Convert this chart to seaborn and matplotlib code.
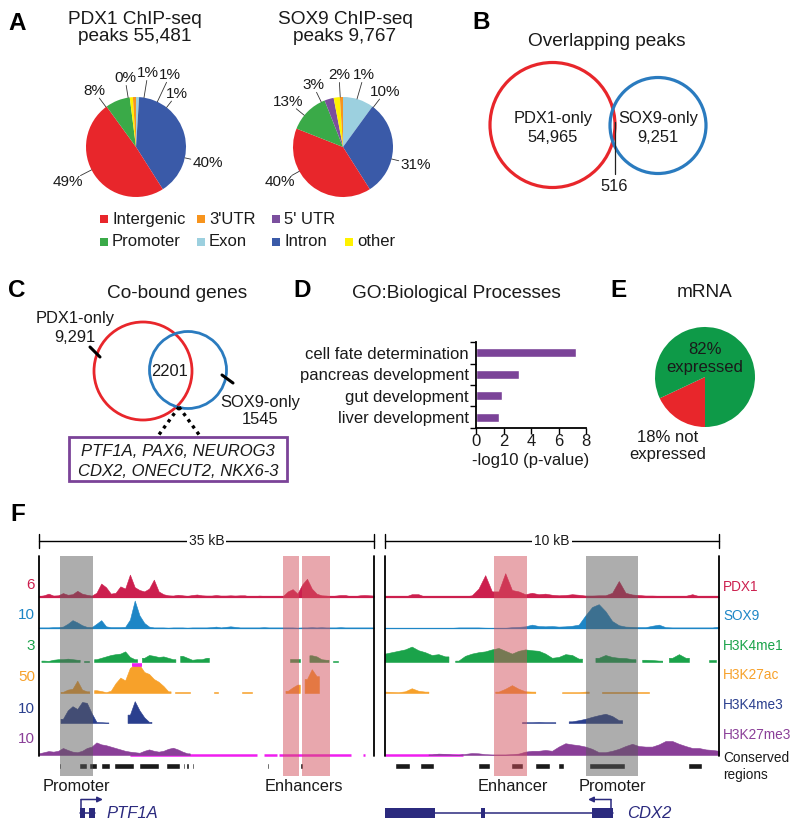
import numpy as np
import pandas as pd
import matplotlib
matplotlib.use('Agg')
import matplotlib.pyplot as plt
import seaborn as sns
from matplotlib.patches import Circle, Rectangle

# ======================= DATA =======================
# Panel A: genomic distribution of ChIP-seq peaks (%), clockwise from 12 o'clock
region_names = ['Exon', 'Intron', 'Intergenic', 'Promoter', "5' UTR", 'other', "3'UTR"]
pdx1_region_pct = [1, 40, 49, 8, 0, 1, 1]
sox9_region_pct = [10, 31, 40, 13, 3, 2, 1]
pdx1_title = ['PDX1 ChIP-seq', 'peaks 55,481']
sox9_title = ['SOX9 ChIP-seq', 'peaks 9,767']
legend_rows = [['Intergenic', "3'UTR", "5' UTR"], ['Promoter', 'Exon', 'Intron', 'other']]

# Panel B: overlapping peaks
peak_sets = ['PDX1-only', 'SOX9-only']
peak_counts = ['54,965', '9,251']
peak_shared = '516'

# Panel C: co-bound genes
gene_sets = ['PDX1-only', 'SOX9-only']
gene_counts = ['9,291', '1545']
gene_shared = '2201'
cobound_examples = ['PTF1A, PAX6, NEUROG3', 'CDX2, ONECUT2, NKX6-3']

# Panel D: GO biological processes
go_terms = ['cell fate determination', 'pancreas development', 'gut development', 'liver development']
go_neglog10p = [7.3, 3.1, 1.9, 1.7]

# Panel E: mRNA expression of co-bound genes
mrna_labels = ['not expressed', 'expressed']
mrna_pct = [18, 82]

# Panel F: browser tracks (signal as fraction of the track scale; nan = no signal)
nan = np.nan
track_names = ['PDX1', 'SOX9', 'H3K4me1', 'H3K27ac', 'H3K4me3', 'H3K27me3']
track_scales = ['6', '10', '3', '50', '10', '10']
left_span_kb, right_span_kb = 35, 10
left_step, right_step = 0.5, 0.2

left_pdx1 = [0.03, 0.06, 0.12, 0.05, 0.06, 0.14, 0.08, 0.10, 0.22, 0.12,
             0.08, 0.05, 0.15, 0.48, 0.35, 0.12, 0.15, 0.38, 0.30, 0.80,
             0.35, 0.25, 0.20, 0.30, 0.62, 0.20, 0.10, 0.06, 0.05, 0.08,
             0.06, 0.04, 0.07, 0.09, 0.06, 0.05, 0.05, 0.07, 0.05, 0.05,
             0.06, 0.05, 0.06, 0.06, 0.02, 0.03, 0.05, 0.04, 0.02, 0.02,
             0.02, 0.04, 0.20, 0.28, 0.12, 0.45, 0.65, 0.30, 0.12, 0.06,
             0.05, 0.03, 0.05, 0.07, 0.07, 0.03, 0.03, 0.06, 0.07, 0.06,
             0.05]
left_sox9 = [0.02, 0.02, 0.02, 0.03, 0.03, 0.05, 0.15, 0.28, 0.20, 0.10,
             0.04, 0.03, 0.15, 0.28, 0.06, 0.03, 0.03, 0.03, 0.04, 0.30,
             0.98, 0.45, 0.18, 0.05, 0.02, 0.02, 0.02, 0.01, 0.02, 0.02,
             0.02, 0.01, 0.02, 0.02, 0.02, 0.02, 0.03, 0.05, 0.02, 0.04,
             0.06, 0.04, 0.02, 0.02, 0.02, 0.02, 0.02, 0.03, 0.02, 0.02,
             0.02, 0.02, 0.02, 0.02, 0.01, 0.02, 0.02, 0.03, 0.02, 0.03,
             0.02, 0.02, 0.02, 0.03, 0.02, 0.02, 0.02, 0.02, 0.02, 0.02,
             0.02]
left_h3k4me1 = [nan, 0.05, 0.04, 0.08, 0.10, 0.10, 0.12, 0.10, 0.08, nan,
                0.05, nan, 0.10, 0.15, 0.20, 0.25, 0.28, 0.30, 0.38, 0.18,
                0.10, nan, 0.15, 0.25, 0.22, 0.18, 0.20, 0.15, 0.10, nan,
                0.22, 0.15, 0.08, 0.10, 0.10, 0.15, nan, nan, nan, nan,
                nan, nan, nan, nan, nan, nan, nan, nan, nan, nan,
                nan, nan, nan, 0.12, 0.12, nan, nan, 0.24, 0.20, 0.10,
                0.08, nan, 0.04, nan, nan, nan, nan, nan, nan, nan,
                nan]
left_h3k27ac = [nan, nan, nan, nan, nan, 0.04, 0.12, 0.15, 0.44, 0.12,
                0.06, nan, 0.10, 0.07, 0.03, 0.08, 0.35, 0.55, 0.45, 0.90,
                1.05, 1.05, 0.75, 0.68, 0.50, 0.40, 0.25, 0.06, nan, 0.05,
                0.05, 0.05, nan, nan, nan, nan, nan, 0.04, nan, nan,
                nan, nan, nan, 0.04, 0.04, nan, nan, nan, nan, nan,
                nan, nan, 0.08, 0.20, 0.30, nan, 0.50, 0.85, 0.60, nan,
                nan, nan, nan, nan, nan, nan, nan, nan, nan, nan,
                nan]
left_h3k4me3 = [nan, nan, nan, nan, nan, 0.15, 0.45, 0.60, 0.50, 0.75,
                0.72, 0.35, 0.04, 0.03, 0.02, nan, nan, nan, nan, 0.30,
                0.78, 0.45, 0.20, 0.04, nan, nan, nan, nan, nan, nan] + [nan] * 41
left_h3k27me3 = [0.06, 0.10, 0.14, 0.12, 0.15, 0.25, 0.18, 0.12, 0.10, 0.15,
                 0.25, 0.30, 0.45, 0.38, 0.35, 0.30, 0.25, 0.20, 0.15, 0.12,
                 0.10, 0.08, 0.15, 0.20, 0.15, 0.12, 0.15, 0.22, 0.26, 0.20,
                 0.12, 0.06] + [nan] * 39

right_pdx1 = [0.04, 0.04, 0.03, 0.01, 0.10, 0.10, 0.01, 0.01, 0.01, 0.01,
              0.01, 0.01, 0.02, 0.06, 0.30, 0.78, 0.20, 0.20, 0.85, 0.25,
              0.20, 0.10, 0.15, 0.10, 0.12, 0.08, 0.06, 0.07, 0.10, 0.08,
              0.05, 0.05, 0.06, 0.06, 0.15, 0.57, 0.15, 0.09, 0.07, 0.05,
              0.05, 0.04, 0.04, 0.03, 0.03, 0.04, 0.10, 0.03, 0.02, 0.02,
              0.02]
right_sox9 = [0.005, 0.005, 0.005, 0.005, 0.005, 0.005, 0.005, 0.005, 0.005, 0.005,
              0.005, 0.02, 0.02, 0.02, 0.02, 0.01, 0.005, 0.005, 0.005, 0.03,
              0.04, 0.06, 0.12, 0.07, 0.06, 0.07, 0.05, 0.06, 0.08, 0.12,
              0.45, 0.75, 0.85, 0.60, 0.25, 0.10, 0.05, 0.04, 0.03, 0.03,
              0.08, 0.12, 0.03, 0.02, 0.02, 0.02, 0.02, 0.02, 0.02, 0.02,
              0.05]
right_h3k4me1 = [0.30, 0.35, 0.40, 0.45, 0.55, 0.42, 0.35, 0.25, 0.28, 0.20,
                 nan, 0.05, 0.22, 0.30, 0.35, 0.38, 0.45, 0.50, 0.40, 0.30,
                 0.40, 0.45, 0.42, 0.40, 0.30, 0.15, 0.18, 0.28, 0.25, 0.12,
                 nan, nan, 0.15, 0.25, 0.18, 0.15, 0.14, 0.10, nan, 0.08,
                 0.07, 0.05, nan, 0.15, 0.28, 0.15, nan, nan, nan, 0.06,
                 nan]
right_h3k27ac = [0.05, 0.04, 0.03, 0.06, 0.17, 0.08, 0.05, nan, nan, nan,
                 nan, nan, nan, nan, nan, nan, nan, 0.05, 0.15, 0.28,
                 0.15, 0.06, 0.05, nan, nan, nan, nan, 0.03, 0.03, 0.03,
                 0.05, nan, nan, 0.03, 0.03, 0.03, 0.03, 0.03, 0.03, 0.03,
                 nan, nan, nan, nan, nan, nan, nan, nan, nan, nan,
                 nan]
right_h3k4me3 = [nan] * 20 + [
                 nan, 0.03, 0.03, 0.04, 0.03, 0.03, nan, nan, 0.06, 0.10,
                 0.15, 0.22, 0.28, 0.33, 0.25, 0.10, nan, nan, nan, nan] + [nan] * 11
right_h3k27me3 = [nan, nan, nan, nan, nan, nan, nan, 0.02, 0.05, 0.04,
                  0.02, 0.01, 0.04, 0.07, 0.06, 0.03, 0.02, 0.02, 0.02, 0.03,
                  0.05, 0.12, 0.15, 0.15, 0.18, 0.15, 0.30, 0.42, 0.38, 0.35,
                  0.30, 0.22, 0.10, 0.10, 0.15, 0.22, 0.32, 0.40, 0.32, 0.30,
                  0.30, 0.38, 0.50, 0.50, 0.40, 0.32, 0.25, 0.25, 0.20, 0.18,
                  0.15]

left_zero_h3k27me3 = [(9.5, 22.8), (23.5, 24.9), (25.1, 32.6), (33.8, 34.1)]
right_zero_h3k27me3 = [(0.0, 2.35)]

left_conserved = [(0.28, 0.39), (2.12, 2.27), (3.53, 3.67), (3.88, 4.02), (4.22, 5.0),
                  (5.27, 6.05), (6.47, 7.44), (7.86, 9.96), (10.41, 12.5), (13.28, 14.78),
                  (15.06, 15.3), (15.41, 15.65), (16.0, 16.17), (23.8, 24.04), (27.28, 27.54)]
right_conserved = [(0.3, 0.75), (1.05, 1.47), (2.78, 3.13), (3.78, 4.13), (4.5, 4.95),
                   (5.17, 5.35), (6.1, 7.18), (9.08, 9.5)]

left_highlights = [(2.2, 5.65, 'promoter'), (25.5, 27.2, 'enhancer'), (27.5, 30.4, 'enhancer')]
right_highlights = [(3.26, 4.25, 'enhancer'), (6.02, 7.57, 'promoter')]

ptf1a_exons = [(4.28, 4.84), (5.26, 5.85)]
ptf1a_tss, ptf1a_strand = 4.38, +1
cdx2_exons = [(0.0, 1.5), (2.88, 3.0), (6.19, 6.82)]
cdx2_tss, cdx2_strand = 6.77, -1

# ======================= STYLE =======================
sns.set_theme(style='white')
plt.rcParams['font.family'] = ['Liberation Sans', 'DejaVu Sans']
TXT = '#1a1a1a'
RED = '#E8262B'
BLUE = '#2A7BBF'
PURPLE = '#7B4398'
GREEN_E = '#0E9A48'
region_colors = {'Intergenic': '#E8262B', "3'UTR": '#F7941D', "5' UTR": '#7B4F9E',
                 'Promoter': '#3AAA48', 'Exon': '#9CD0DF', 'Intron': '#3A5AA8', 'other': '#FFF200'}
track_colors = ['#CC1F4E', '#1D86C6', '#1AA34A', '#F7A12A', '#2A3F8E', '#8A3F98']
MAGENTA = '#F01EF0'
NAVY = '#2B2A7E'
FS_TITLE = 13.7
FS = 11.9

W, H = 800, 832
fig = plt.figure(figsize=(W / 100, H / 100), dpi=100)
fig.patch.set_facecolor('white')


def fig_axes(x0, y0, x1, y1):
    ax = fig.add_axes([x0 / W, 1 - y1 / H, (x1 - x0) / W, (y1 - y0) / H])
    ax.patch.set_alpha(0)
    return ax


ov = fig_axes(0, 0, W, H)
ov.set_xlim(0, W)
ov.set_ylim(H, 0)
ov.axis('off')
ov.set_zorder(20)


def T(x, y, s, size=FS, ha='center', va='baseline', color=TXT, **kw):
    ov.text(x, y, s, fontsize=size, ha=ha, va=va, color=color, **kw)


for letter, (x, y) in zip('ABCDEF', [(8, 30), (472, 29), (8, 297), (293, 297), (610, 297), (10, 521)]):
    T(x, y, letter, size=17.5, ha='left', weight='bold', color='black')


def draw_pie(cx, cy, r, values, colors, startangle, label_xy=None, fs=11):
    pad = 1.75
    ax = fig_axes(cx - r * pad, cy - r * pad, cx + r * pad, cy + r * pad)
    ax.pie(values, colors=colors, startangle=startangle, counterclock=False, radius=1,
           wedgeprops=dict(linewidth=0))
    ax.set_xlim(-pad, pad)
    ax.set_ylim(-pad, pad)
    ax.set_aspect('equal')
    ax.axis('off')
    if label_xy is None:
        return ax
    em = fs * 100 / 72 / r          # font size in radius units
    for v, (lx, ly) in zip(values, label_xy):
        s = f'{v}%'
        d = np.hypot(lx, ly)
        ux, uy = lx / d, ly / d
        hw = (0.556 * (len(s) - 1) + 0.889) * em / 2
        hh = 0.36 * em
        t = min(hw / max(abs(ux), 1e-6), hh / max(abs(uy), 1e-6)) + 0.04
        end = d - t
        if end > 1.03:
            ax.plot([ux * 1.0, ux * end], [uy * 1.0, uy * end], color='#333333', lw=0.6)
        ax.text(lx, ly, s, ha='center', va='center', fontsize=fs, color=TXT)
    return ax


# ---------------- Panel A ----------------
pdx1_label_xy = [(0.82, 1.06), (1.44, -0.32), (-1.36, -0.70), (-0.84, 1.12),
                 (-0.22, 1.38), (0.24, 1.48), (0.68, 1.44)]
sox9_label_xy = [(0.84, 1.10), (1.46, -0.36), (-1.26, -0.70), (-1.10, 0.90),
                 (-0.60, 1.24), (-0.08, 1.44), (0.42, 1.44)]
draw_pie(136, 147, 50, pdx1_region_pct, [region_colors[n] for n in region_names], 90, pdx1_label_xy)
draw_pie(343, 147, 50, sox9_region_pct, [region_colors[n] for n in region_names], 90, sox9_label_xy)
T(134.5, 24, pdx1_title[0], FS_TITLE)
T(134.5, 41, pdx1_title[1], FS_TITLE)
T(345, 24, sox9_title[0], FS_TITLE)
T(345, 41, sox9_title[1], FS_TITLE)

legend_x = [100, 197, 272, 345]
for row, ybase in zip(legend_rows, [224, 246.5]):
    for name, x in zip(row, legend_x):
        ov.add_patch(Rectangle((x, ybase - 9), 8, 8, fc=region_colors[name], lw=0))
        T(x + 12, ybase, name, 12, ha='left')

# ---------------- Panel B ----------------
T(607, 46, 'Overlapping peaks', FS_TITLE)
ov.add_patch(Circle((552.5, 125), 62.5, fill=False, ec=RED, lw=2.3))
ov.add_patch(Circle((658, 125.5), 48, fill=False, ec=BLUE, lw=2.3))
T(553, 123, peak_sets[0])
T(553, 142, peak_counts[0])
T(658, 123, peak_sets[1])
T(658, 142, peak_counts[1])
ov.plot([615, 615], [122, 174], color='#222222', lw=0.9)
T(614, 191, peak_shared)

# ---------------- Panel C ----------------
T(177, 298, 'Co-bound genes', FS_TITLE)
ov.add_patch(Circle((143, 371), 49, fill=False, ec=RED, lw=2.0))
ov.add_patch(Circle((188, 370), 38.5, fill=False, ec=BLUE, lw=2.0))
T(75, 323, gene_sets[0])
T(75, 342, gene_counts[0])
ov.plot([90, 100], [347, 357], color='black', lw=2.2)
T(170, 376, gene_shared)
T(260, 407, gene_sets[1])
T(260, 424, gene_counts[1])
ov.plot([222, 233], [375, 383], color='black', lw=2.2)
ov.plot([179, 158], [407, 436], color='black', lw=2.4, ls=(0, (1, 1.3)))
ov.plot([179, 200], [407, 436], color='black', lw=2.4, ls=(0, (1, 1.3)))
ov.add_patch(Rectangle((69, 437), 218, 44, fill=False, ec=PURPLE, lw=2.0))
T(178, 456, cobound_examples[0], 12, style='italic')
T(178, 476, cobound_examples[1], 12, style='italic')

# ---------------- Panel D ----------------
T(456, 298, 'GO:Biological Processes', FS_TITLE)
axD = fig_axes(476, 342, 586, 428)
dfD = pd.DataFrame({'term': go_terms, 'score': go_neglog10p})
sns.barplot(data=dfD, x='score', y='term', orient='h', color=PURPLE, saturation=1,
            width=0.42, ax=axD)
axD.set_xlim(0, 8)
axD.set_ylim(3.5, -0.5)
axD.set_xlabel('')
axD.set_ylabel('')
axD.set_xticks([0, 2, 4, 6, 8])
axD.tick_params(axis='x', which='major', length=4, width=1, labelsize=12, pad=0.5,
                color='black', bottom=True, labelcolor=TXT)
axD.tick_params(axis='y', which='major', length=0, labelsize=12, pad=5, labelcolor=TXT)
axD.set_yticks(np.arange(-0.5, 4.0, 1.0), minor=True)
axD.tick_params(axis='y', which='minor', length=4, width=1, left=True, color='black')
for s in ['top', 'right']:
    axD.spines[s].set_visible(False)
for s in ['left', 'bottom']:
    axD.spines[s].set_visible(True)
    axD.spines[s].set_color('black')
    axD.spines[s].set_linewidth(1.3)
T(531, 465, '-log10 (p-value)', 12)

# ---------------- Panel E ----------------
T(705, 297, 'mRNA', FS_TITLE)
draw_pie(705, 377, 50, mrna_pct, [RED, GREEN_E], 270)
T(705, 354, f'{mrna_pct[1]}%', 12)
T(705, 372, mrna_labels[1], 12)
T(668, 442, f'{mrna_pct[0]}% not', 12)
T(668, 459, 'expressed', 12)

# ---------------- Panel F ----------------
TH = 28
baselines = [597, 628, 662, 693, 723, 755]
left_label_y = [585, 615, 646, 677, 709, 739]
right_label_y = [587, 616, 646, 675, 705, 735]
hl_style = {'promoter': ('#5C5C5C', 0.5), 'enhancer': ('#D2505C', 0.5)}


def runs(mask):
    """Contiguous index runs where mask is True."""
    out, start = [], None
    for i, m in enumerate(mask):
        if m and start is None:
            start = i
        if not m and start is not None:
            out.append((start, i))
            start = None
    if start is not None:
        out.append((start, len(mask)))
    return out


def draw_region(x0px, x1px, span, step, signals, zero_segments, conserved, highlights,
                scale_text, exons, tss, strand, gene, gene_x, arrow_len, labels):
    ax = fig_axes(x0px, 528, x1px, 832)
    ax.set_xlim(0, span)
    ax.set_ylim(832, 528)
    ax.axis('off')
    kb = np.arange(len(signals[0])) * step
    # scale bar
    ax.plot([0, span], [541, 541], color='black', lw=1, clip_on=False)
    for xe in (0, span):
        ax.plot([xe, xe], [534, 548], color='black', lw=1, clip_on=False)
    ax.text(span / 2, 541, scale_text, ha='center', va='center', fontsize=10, color=TXT,
            bbox=dict(fc='white', ec='none', pad=1.5))
    # frame
    for xe in (0, span):
        ax.plot([xe, xe], [556, 756], color='black', lw=1.3, clip_on=False, zorder=6)
    # zero-signal segments of H3K27me3
    for a, b in zero_segments:
        ax.plot([a, b], [baselines[5], baselines[5]], color=MAGENTA, lw=1.8, zorder=2,
                solid_capstyle='butt')
    # baseline lines for TF tracks
    ax.plot([0, span], [baselines[0], baselines[0]], color=track_colors[0], lw=1.6, zorder=3)
    ax.plot([0, span], [baselines[1], baselines[1]], color=track_colors[1], lw=0.9, zorder=3)
    for i, sig in enumerate(signals):
        v = np.asarray(sig, float)
        m = ~np.isnan(v)
        for a, b in runs(m):
            xs = np.concatenate([[kb[a] - step / 2], kb[a:b], [kb[b - 1] + step / 2]])
            hv = np.clip(v[a:b], 0, 1.0) * TH
            ys = np.concatenate([[hv[0]], hv, [hv[-1]]])
            ax.fill_between(xs, baselines[i], baselines[i] - ys, color=track_colors[i],
                            lw=0.4, edgecolor=track_colors[i], zorder=3)
        over = m & (np.nan_to_num(v) > 1.0)
        for xk in kb[over]:
            ax.plot([xk - step / 2, xk + step / 2], [baselines[i] - TH] * 2, color=MAGENTA,
                    lw=2.6, zorder=4, solid_capstyle='butt')
    # conserved regions
    ax.broken_barh([(a, max(b - a, 0.04 * span / 10)) for a, b in conserved], (763, 6),
                   facecolors='#1a1a1a', zorder=3)
    # highlights
    for a, b, kind in highlights:
        c, al = hl_style[kind]
        ax.add_patch(Rectangle((a, 556), b - a, 220, fc=c, alpha=al, lw=0, zorder=5))
    # region labels
    for text, x, ha in labels:
        ax.text(x, 791, text, ha=ha, va='baseline', fontsize=11.8, color=TXT, zorder=7)
    # gene model
    gs, ge = min(e[0] for e in exons), max(e[1] for e in exons)
    ax.plot([gs, ge], [813, 813], color=NAVY, lw=1.1, zorder=3)
    for a, b in exons:
        ax.add_patch(Rectangle((a, 807.5), b - a, 10.5, fc=NAVY, lw=0, zorder=4))
    ax.plot([tss, tss], [807.5, 799.5], color=NAVY, lw=1.1, zorder=4)
    ax.annotate('', xy=(tss + strand * arrow_len, 799.5), xytext=(tss, 799.5),
                arrowprops=dict(arrowstyle='-|>', color=NAVY, lw=1.1, mutation_scale=8,
                                shrinkA=0, shrinkB=0), zorder=4)
    ax.text(gene_x, 813, gene, ha='left', va='center', fontsize=12, style='italic', color=NAVY)
    return ax


left_signals = [left_pdx1, left_sox9, left_h3k4me1, left_h3k27ac, left_h3k4me3, left_h3k27me3]
right_signals = [right_pdx1, right_sox9, right_h3k4me1, right_h3k27ac, right_h3k4me3, right_h3k27me3]

axL = draw_region(39, 374, left_span_kb, left_step, left_signals, left_zero_h3k27me3,
                  left_conserved, left_highlights, '35 kB', ptf1a_exons, ptf1a_tss,
                  ptf1a_strand, 'PTF1A', 7.1, 2.3,
                  [('Promoter', 0.4, 'left'), ('Enhancers', 23.6, 'left')])
axR = draw_region(385, 719, right_span_kb, right_step, right_signals, right_zero_h3k27me3,
                  right_conserved, right_highlights, '10 kB', cdx2_exons, cdx2_tss,
                  cdx2_strand, 'CDX2', 7.25, 0.69,
                  [('Enhancer', 3.83, 'center'), ('Promoter', 6.8, 'center')])

for i in range(6):
    T(35, left_label_y[i], track_scales[i], 11, ha='right', va='center', color=track_colors[i])
    T(723, right_label_y[i], track_names[i], 9.8, ha='left', va='center', color=track_colors[i])
T(723, 758, 'Conserved', 9.8, ha='left', va='center')
T(723, 775, 'regions', 9.8, ha='left', va='center')

fig.savefig('out.png', dpi=100, facecolor='white')
